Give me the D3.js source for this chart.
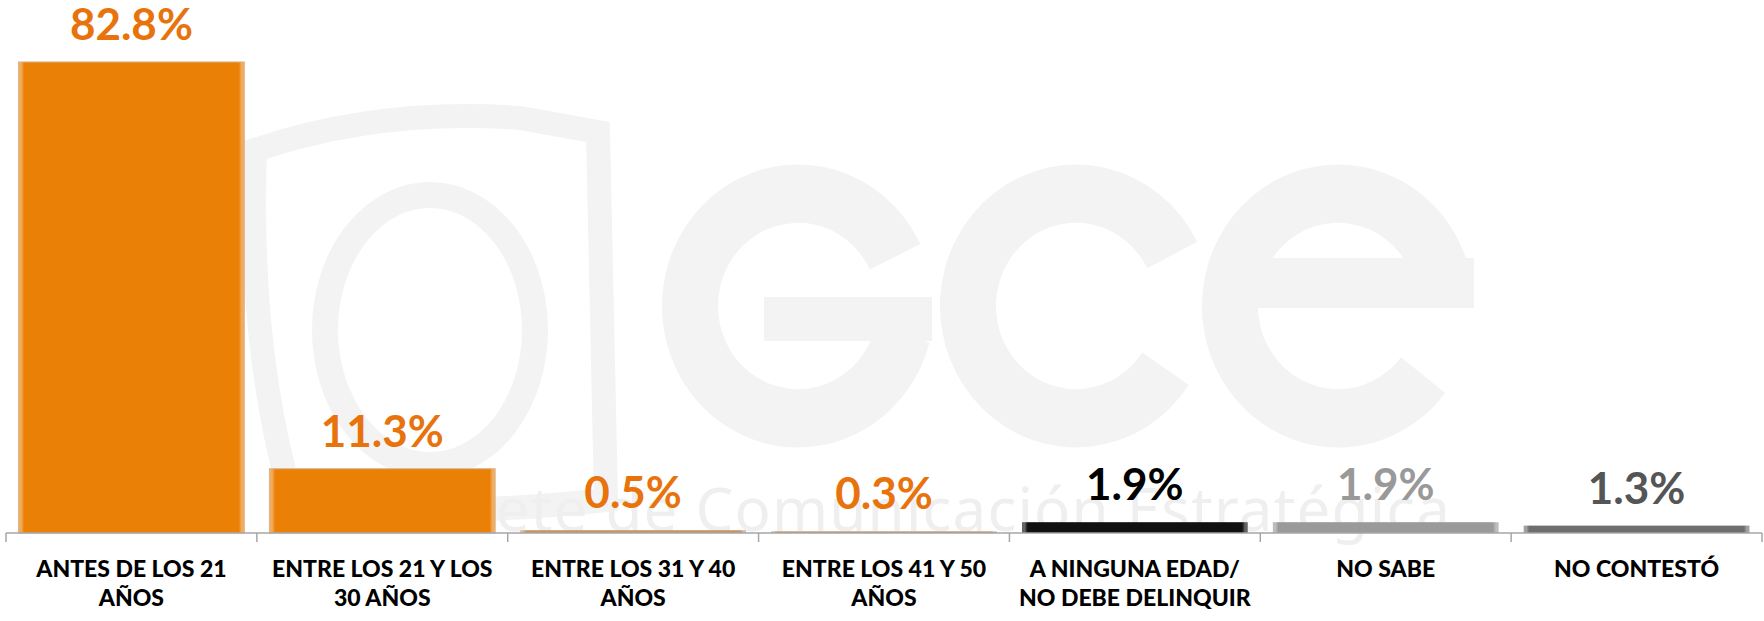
<!DOCTYPE html>
<html><head><meta charset="utf-8">
<script src="https://cdn.jsdelivr.net/npm/d3@7"></script>
<style>html,body{margin:0;padding:0;background:#fff;}svg{display:block;}</style>
</head><body>
<svg id="chart" width="1764" height="621"></svg>
<script>
const categories = [
  ["ANTES DE LOS 21", "AÑOS"],
  ["ENTRE LOS 21 Y LOS", "30 AÑOS"],
  ["ENTRE LOS 31 Y 40", "AÑOS"],
  ["ENTRE LOS 41 Y 50", "AÑOS"],
  ["A NINGUNA EDAD/", "NO DEBE DELINQUIR"],
  ["NO SABE"],
  ["NO CONTESTÓ"]
];
const values = [82.8, 11.3, 0.5, 0.3, 1.9, 1.9, 1.3];
const valueLabels = ["82.8%", "11.3%", "0.5%", "0.3%", "1.9%", "1.9%", "1.3%"];
const barColors = ["#EA8006", "#EA8006", "#C8966A", "#C8966A", "#111111", "#9A9A9A", "#6E6E6E"];
const labelColors = ["#E8730C", "#E8730C", "#E8730C", "#E8730C", "#000000", "#999999", "#555555"];

const svg = d3.select("#chart");
const baseY = 533;
const wmColor = "#f3f3f3";
const deg = Math.PI / 180;

// watermark (logo shapes)
const wm = svg.append("g");
wm.append("path")
  .attr("d", "M255,150 Q380,108 520,118 L598,132 L606,500 Q420,520 292,500 Q248,350 255,150 Z")
  .attr("fill", "none").attr("stroke", wmColor).attr("stroke-width", 24);
wm.append("ellipse").attr("cx", 430).attr("cy", 330).attr("rx", 105).attr("ry", 135)
  .attr("fill", "none").attr("stroke", wmColor).attr("stroke-width", 26);
const ring = d3.arc().innerRadius(80).outerRadius(136);
const cy = 306;
// G
wm.append("path").attr("transform", `translate(798,${cy}) scale(1,1.04)`)
  .attr("d", ring({startAngle: 105 * deg, endAngle: 64 * deg + 2 * Math.PI}))
  .attr("fill", wmColor);
wm.append("rect").attr("x", 764).attr("y", cy - 9).attr("width", 168).attr("height", 44).attr("fill", wmColor);
// c
wm.append("path").attr("transform", `translate(1076,${cy}) scale(1,1.04)`)
  .attr("d", ring({startAngle: 124 * deg, endAngle: 63 * deg + 2 * Math.PI}))
  .attr("fill", wmColor);
// e
wm.append("path").attr("transform", `translate(1338,${cy}) scale(1,1.04)`)
  .attr("d", ring({startAngle: 128 * deg, endAngle: 90 * deg + 2 * Math.PI}))
  .attr("fill", wmColor);
wm.append("rect").attr("x", 1338 - 100).attr("y", cy - 48).attr("width", 236).attr("height", 50).attr("fill", wmColor);
wm.append("text").attr("x", 323).attr("y", 531).attr("font-family", "Noto Sans, sans-serif")
  .attr("font-size", 60).attr("fill", "#efefef").attr("textLength", 1127)
  .text("Gabinete de Comunicación Estratégica");

const x = d3.scaleBand().domain(d3.range(categories.length)).range([6, 1762])
  .paddingInner(0.1).paddingOuter(0.05);
const y = d3.scaleLinear().domain([0, 90]).range([baseY, 21]);

// gradients for bevel look
const defs = svg.append("defs");
barColors.forEach((c, i) => {
  const g = defs.append("linearGradient").attr("id", "g" + i).attr("x1", 0).attr("x2", 1).attr("y1", 0).attr("y2", 0);
  const light = d3.interpolateRgb(c, "#ffffff")(0.35);
  g.append("stop").attr("offset", "0%").attr("stop-color", light);
  g.append("stop").attr("offset", "1.2%").attr("stop-color", light);
  g.append("stop").attr("offset", "2.5%").attr("stop-color", c);
  g.append("stop").attr("offset", "97.5%").attr("stop-color", c);
  g.append("stop").attr("offset", "98.8%").attr("stop-color", light);
  g.append("stop").attr("offset", "100%").attr("stop-color", light);
});

svg.append("g").selectAll("rect").data(values).join("rect")
  .attr("x", (d, i) => x(i))
  .attr("y", d => y(d))
  .attr("width", x.bandwidth())
  .attr("height", d => baseY - y(d))
  .attr("fill", (d, i) => `url(#g${i})`)
  .attr("stroke", (d, i) => i < 2 ? "#d9b58f" : "none")
  .attr("stroke-width", 1);

// value labels
svg.append("g").selectAll("text").data(values).join("text")
  .attr("x", (d, i) => x(i) + x.bandwidth() / 2)
  .attr("y", d => y(d) - 22)
  .attr("text-anchor", "middle")
  .attr("font-family", "Lato, sans-serif")
  .attr("font-weight", 700)
  .attr("font-size", 44)
  .attr("fill", (d, i) => labelColors[i])
  .text((d, i) => valueLabels[i]);

// axis line & ticks
const step = x.step();
const x0 = x.range()[0];
svg.append("line").attr("x1", x0).attr("x2", 1762).attr("y1", baseY).attr("y2", baseY)
  .attr("stroke", "#a6a6a6").attr("stroke-width", 1.5);
svg.append("g").selectAll("line").data(d3.range(categories.length + 1)).join("line")
  .attr("x1", i => x0 + i * step).attr("x2", i => x0 + i * step)
  .attr("y1", baseY).attr("y2", baseY + 9)
  .attr("stroke", "#a6a6a6").attr("stroke-width", 1.5);

// category labels
const cl = svg.append("g").selectAll("text").data(categories).join("text")
  .attr("x", (d, i) => x(i) + x.bandwidth() / 2)
  .attr("y", 577)
  .attr("text-anchor", "middle")
  .attr("font-family", "Lato, sans-serif")
  .attr("font-weight", 900)
  .attr("font-size", 23)
  .attr("fill", "#000");
cl.each(function(lines) {
  d3.select(this).selectAll("tspan").data(lines).join("tspan")
    .attr("x", d3.select(this).attr("x"))
    .attr("dy", (l, j) => j === 0 ? 0 : 29)
    .text(l => l);
});
</script>
</body></html>
